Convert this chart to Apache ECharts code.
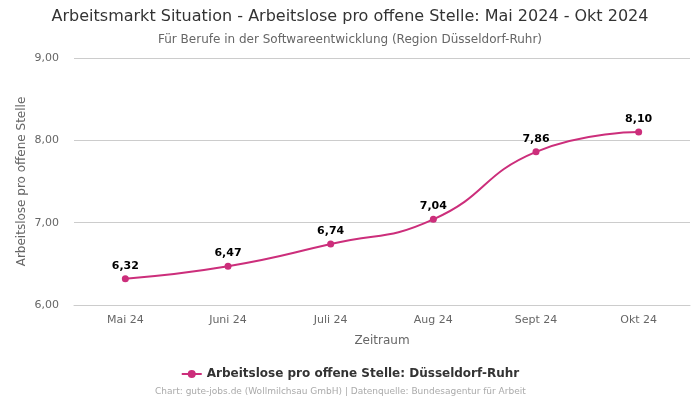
<!DOCTYPE html>
<html><head><meta charset="utf-8">
<script src="https://cdn.jsdelivr.net/npm/echarts@6/dist/echarts.min.js"></script>
<style>html,body{margin:0;padding:0;background:#fff}#c{width:700px;height:400px}</style>
</head><body><div id="c"></div>
<script>
const categories = ['Mai 24','Juni 24','Juli 24','Aug 24','Sept 24','Okt 24'];
const values = [6.32, 6.47, 6.74, 7.04, 7.86, 8.10];
const seriesName = 'Arbeitslose pro offene Stelle: Düsseldorf-Ruhr';
const color = '#cc2e7b';
const fmt = v => v.toFixed(2).replace('.', ',');
const chart = echarts.init(document.getElementById('c'));
chart.setOption({
  animation:false,
  textStyle:{fontFamily:'DejaVu Sans'},
  title:[
    {text:'Arbeitsmarkt Situation - Arbeitslose pro offene Stelle: Mai 2024 - Okt 2024', left:'center', top:4,
     textStyle:{fontSize:16, fontWeight:'normal', color:'#333', fontFamily:'DejaVu Sans'}},
    {text:'Für Berufe in der Softwareentwicklung (Region Düsseldorf-Ruhr)', left:'center', top:29,
     textStyle:{fontSize:12, fontWeight:'normal', color:'#666', fontFamily:'DejaVu Sans'}},
    {text:'Chart: gute-jobs.de (Wollmilchsau GmbH) | Datenquelle: Bundesagentur für Arbeit', left:150, top:382,
     textStyle:{fontSize:9, fontWeight:'normal', color:'#aaa', fontFamily:'DejaVu Sans'}}
  ],
  legend:{top:363, left:'center', itemWidth:20, itemHeight:10,
    textStyle:{fontSize:12, fontWeight:'bold', color:'#333'}, data:[seriesName]},
  grid:{left:74, right:10, top:58, bottom:95},
  xAxis:{type:'category', data:categories, boundaryGap:true,
    name:'Zeitraum', nameLocation:'middle', nameGap:30, nameTextStyle:{fontSize:12, color:'#666'},
    axisLine:{show:true, lineStyle:{color:'#ccc'}}, axisTick:{show:false},
    axisLabel:{fontSize:11, color:'#666', margin:10}},
  yAxis:{type:'value', min:6, max:9, interval:1,
    name:'Arbeitslose pro offene Stelle', nameLocation:'middle', nameGap:46, nameMoveOverlap:false,
    nameTextStyle:{fontSize:12, color:'#666'},
    axisLabel:{fontSize:11, color:'#666', margin:15, formatter:v=>fmt(v)},
    splitLine:{lineStyle:{color:'#ccc'}}},
  series:[{name:seriesName, type:'line', data:values, smooth:true, symbol:'circle', symbolSize:7,
    itemStyle:{color:color}, lineStyle:{color:color, width:2},
    label:{show:true, position:'top', distance:4, fontSize:11, fontWeight:'bold', color:'#000', formatter:p=>fmt(p.value)}}]
});
</script></body></html>
